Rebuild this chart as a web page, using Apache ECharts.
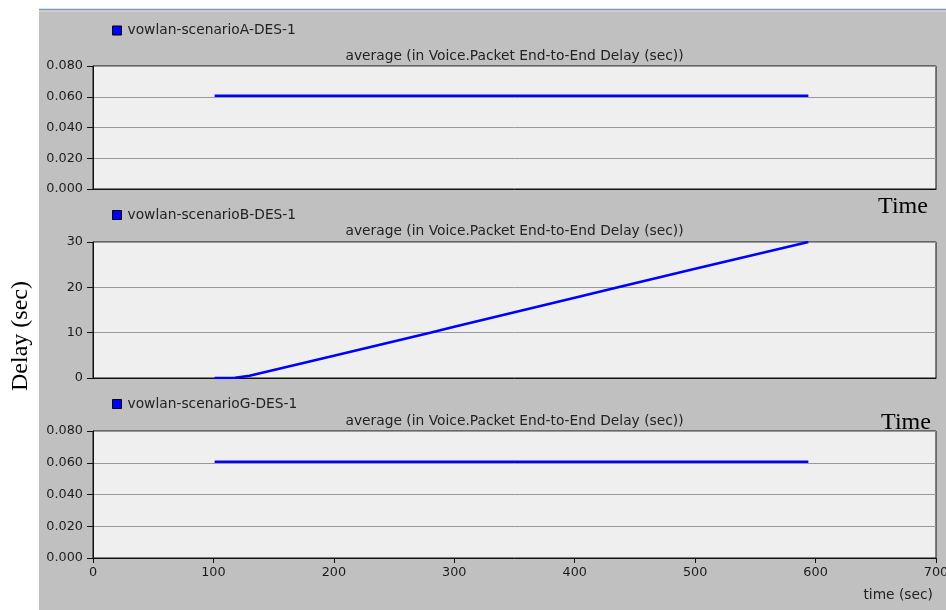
<!DOCTYPE html>
<html>
<head>
<meta charset="utf-8">
<script src="https://cdn.jsdelivr.net/npm/echarts@6/dist/echarts.min.js"></script>
<style>
  html, body { margin: 0; padding: 0; background: #ffffff; }
  #chart { width: 946px; height: 610px; }
</style>
</head>
<body>
<div id="chart"></div>
<script>
// Scenario names shown in each panel's legend
const seriesNames = ['vowlan-scenarioA-DES-1', 'vowlan-scenarioB-DES-1', 'vowlan-scenarioG-DES-1'];
const panelTitle = 'average (in Voice.Packet End-to-End Delay (sec))';

// Average end-to-end delay samples: [time (sec), delay (sec)]
const scenarioA = [[101, 0.0606], [594, 0.0606]];
const scenarioB = [[101, 0], [118, 0.05], [130, 0.5], [200, 4.9], [280, 10], [300, 11.3],
                   [400, 17.7], [436, 20], [500, 24.1], [594, 30]];
const scenarioG = [[101, 0.0606], [594, 0.0607]];

// Axis ranges / ticks
const timeTicks = [0, 100, 200, 300, 400, 500, 600, 700];
const smallDelayTicks = [0, 0.02, 0.04, 0.06, 0.08];
const largeDelayTicks = [0, 10, 20, 30];

const PLOT_LEFT = 93, PLOT_RIGHT = 936;
const panels = [
  { top: 66, height: 123 },
  { top: 242, height: 136 },
  { top: 431, height: 127 }
];

const sans = '"DejaVu Sans", Verdana, sans-serif';
const serif = '"Liberation Serif", "Times New Roman", serif';
const TICK_FS = 12.8;   // tick label size
const TEXT_FS = 13.8;   // legend / panel title size
const lineBlue = '#0000ff';

const chart = echarts.init(document.getElementById('chart'), null, { renderer: 'canvas' });

const grids = panels.map(p => ({
  left: PLOT_LEFT, top: p.top, width: PLOT_RIGHT - PLOT_LEFT, height: p.height,
  show: true, backgroundColor: '#efefef', borderColor: '#111', borderWidth: 1,
  containLabel: false, outerBoundsMode: 'none'
}));

const xAxes = panels.map((p, i) => ({
  type: 'value', gridIndex: i,
  min: timeTicks[0], max: timeTicks[timeTicks.length - 1], interval: 100,
  axisLine: { show: true, lineStyle: { color: '#111', width: 1 } },
  axisTick: { show: i === 2, inside: false, length: 5, lineStyle: { color: '#111' } },
  axisLabel: { show: i === 2, margin: 8, color: '#1a1a1a', fontFamily: sans, fontSize: TICK_FS,
               showMinLabel: true, showMaxLabel: true, hideOverlap: false },
  splitLine: { show: false }
}));

const yTicksFor = [smallDelayTicks, largeDelayTicks, smallDelayTicks];
const yAxes = panels.map((p, i) => {
  const ticks = yTicksFor[i];
  const small = ticks === smallDelayTicks;
  return {
    type: 'value', gridIndex: i,
    min: ticks[0], max: ticks[ticks.length - 1], interval: ticks[1] - ticks[0],
    axisLine: { show: true, lineStyle: { color: '#111', width: 1 } },
    axisTick: { show: true, inside: false, length: 6, lineStyle: { color: '#111' } },
    axisLabel: {
      margin: 10, color: '#1a1a1a', fontFamily: sans, fontSize: TICK_FS,
      formatter: v => small ? v.toFixed(3) : String(Math.round(v))
    },
    splitLine: { show: true, lineStyle: { color: '#999', width: 1 } }
  };
});

const dataSets = [scenarioA, scenarioB, scenarioG];
const series = dataSets.map((d, i) => ({
  name: seriesNames[i], type: 'line', xAxisIndex: i, yAxisIndex: i,
  data: d, showSymbol: false, symbol: 'none', smooth: false,
  lineStyle: { color: lineBlue, width: 2.5 }, itemStyle: { color: lineBlue },
  emphasis: { disabled: true }, animation: false
}));

const legendTops = [23.5, 208, 397];
const legends = seriesNames.map((n, i) => ({
  data: [n], left: 112, top: legendTops[i], icon: 'rect',
  itemWidth: 9, itemHeight: 9, itemGap: 5, padding: 0,
  itemStyle: { borderColor: '#000', borderWidth: 1 },
  textStyle: { color: '#222', fontFamily: sans, fontSize: TEXT_FS, padding: [0, 0, 0, 1] },
  selectedMode: false
}));

const titleYs = [56, 231, 421];
const graphics = [
  // Gray panel surround and its top rule
  { type: 'rect', z: -10, shape: { x: 39, y: 9, width: 907, height: 601 }, style: { fill: '#c0c0c0' }, silent: true },
  { type: 'line', z: -9, shape: { x1: 39, y1: 9.5, x2: 946, y2: 9.5 }, style: { stroke: '#7f98b8', lineWidth: 1.5 }, silent: true },
  { type: 'line', z: -9, shape: { x1: 39, y1: 11, x2: 946, y2: 11 }, style: { stroke: '#dcdcdc', lineWidth: 1 }, silent: true },
  // Vertical axis caption
  { type: 'text', rotation: Math.PI / 2, x: 21, y: 336,
    style: { text: 'Delay (sec)', font: '24px ' + serif, fill: '#000', align: 'center', verticalAlign: 'middle' }, silent: true },
  // "Time" captions
  { type: 'text', x: 903, y: 207, z: 20,
    style: { text: 'Time', font: '24px ' + serif, fill: '#000', align: 'center', verticalAlign: 'middle' }, silent: true },
  { type: 'text', x: 906, y: 423, z: 20,
    style: { text: 'Time', font: '24px ' + serif, fill: '#000', align: 'center', verticalAlign: 'middle' }, silent: true },
  // x-axis unit label
  { type: 'text', x: 933, y: 595, z: 20,
    style: { text: 'time (sec)', font: TEXT_FS + 'px ' + sans, fill: '#222', align: 'right', verticalAlign: 'middle' }, silent: true }
].concat(titleYs.map(y => ({
  type: 'text', x: (PLOT_LEFT + PLOT_RIGHT) / 2, y: y, z: 20,
  style: { text: panelTitle, font: TEXT_FS + 'px ' + sans, fill: '#222', align: 'center', verticalAlign: 'middle' }, silent: true
})));

chart.setOption({
  backgroundColor: '#ffffff',
  animation: false,
  legend: legends,
  grid: grids,
  xAxis: xAxes,
  yAxis: yAxes,
  series: series,
  graphic: graphics
});
</script>
</body>
</html>
